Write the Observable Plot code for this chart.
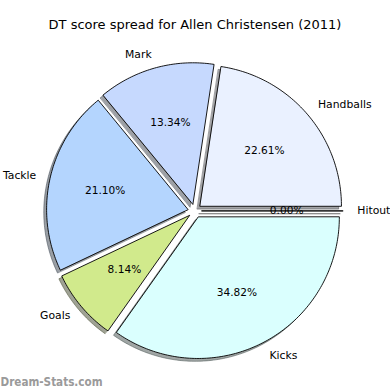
<!DOCTYPE html>
<html>
<head>
<meta charset="utf-8">
<script src="https://cdn.jsdelivr.net/npm/d3@7"></script>
<script src="https://cdn.jsdelivr.net/npm/@observablehq/plot@0.6"></script>
<style>
  html, body { margin: 0; padding: 0; background: white; }
  #wrap { width: 390px; height: 390px; position: relative; overflow: hidden; }
  #title { height: 40px; box-sizing: border-box; padding-top: 17px; line-height: 16px;
           font-family: "DejaVu Sans"; font-size: 13px; text-align: center; color: #000; }
</style>
</head>
<body>
<div id="wrap">
  <div id="title">DT score spread for Allen Christensen (2011)</div>
  <div id="chart"></div>
</div>
<script>
const title = "DT score spread for Allen Christensen (2011)";
const labels = ["Handballs", "Mark", "Tackle", "Goals", "Kicks", "Hitout"];
const values = [22.61, 13.34, 21.10, 8.14, 34.82, 0.00];
const colors = ["#eaf1ff", "#c6d9fe", "#b4d5fe", "#d1ea8c", "#dafffe", "#ffffff"];
const watermark = "Dream-Stats.com";

const explode = 0.05, labelDist = 1.1, pctDist = 0.6, shadowOff = 0.02;
const cx = 194.3, cy = 210.4 - 40, r = 141.3;

const total = d3.sum(values);
let acc = 0;
const wedges = labels.map((label, i) => {
  const t1 = acc / total * 360;
  acc += values[i];
  const t2 = acc / total * 360;
  const mid = (t1 + t2) / 2 * Math.PI / 180;
  const ox = explode * Math.cos(mid), oy = explode * Math.sin(mid);
  const pts = [[ox, oy]];
  const n = Math.max(2, Math.ceil(t2 - t1));
  for (let k = 0; k <= n; k++) {
    const a = (t1 + (t2 - t1) * k / n) * Math.PI / 180;
    pts.push([ox + Math.cos(a), oy + Math.sin(a)]);
  }
  const c = d3.rgb(colors[i]);
  const shadow = d3.rgb(c.r * 0.3, c.g * 0.3, c.b * 0.3).formatHex();
  return {
    label, value: values[i], color: colors[i], shadow, pts,
    lx: ox + labelDist * Math.cos(mid), ly: oy + labelDist * Math.sin(mid),
    px: ox + pctDist * Math.cos(mid), py: oy + pctDist * Math.sin(mid),
    pct: (values[i] / total * 100).toFixed(2) + "%"
  };
});

const marks = [];
for (const w of wedges) {
  marks.push(Plot.line(w.pts, {
    x: d => d[0] - shadowOff, y: d => d[1] - shadowOff, curve: "linear-closed",
    fill: w.shadow, fillOpacity: 0.5, stroke: w.shadow, strokeOpacity: 0.5, strokeWidth: 1
  }));
}
for (const w of wedges) {
  marks.push(Plot.line(w.pts, {
    x: d => d[0], y: d => d[1], curve: "linear-closed",
    fill: w.color, stroke: "black", strokeWidth: 0.9
  }));
}
marks.push(Plot.text(wedges.filter(w => w.lx > 0), {
  x: "lx", y: "ly", text: "label", textAnchor: "start", fontSize: 10.8, fill: "black"
}));
marks.push(Plot.text(wedges.filter(w => w.lx <= 0), {
  x: "lx", y: "ly", text: "label", textAnchor: "end", fontSize: 10.8, fill: "black"
}));
marks.push(Plot.text(wedges, {
  x: "px", y: "py", text: "pct", textAnchor: "middle", fontSize: 10.6, fill: "black"
}));
marks.push(Plot.text([watermark], {
  frameAnchor: "bottom-left", text: d => d, textAnchor: "start", lineAnchor: "bottom",
  fontSize: 11.6, fontWeight: "bold", fill: "#9a9a9a", fontFamily: "DejaVu Sans Condensed", dy: -4.5
}));

const chart = Plot.plot({
  width: 390, height: 350, margin: 0,
  x: { domain: [-1, 1], range: [cx - r, cx + r], axis: null },
  y: { domain: [-1, 1], range: [cy + r, cy - r], axis: null },
  style: { fontFamily: "DejaVu Sans", background: "white", overflow: "visible" },
  marks
});
document.getElementById("chart").appendChild(chart);
</script>
</body>
</html>
